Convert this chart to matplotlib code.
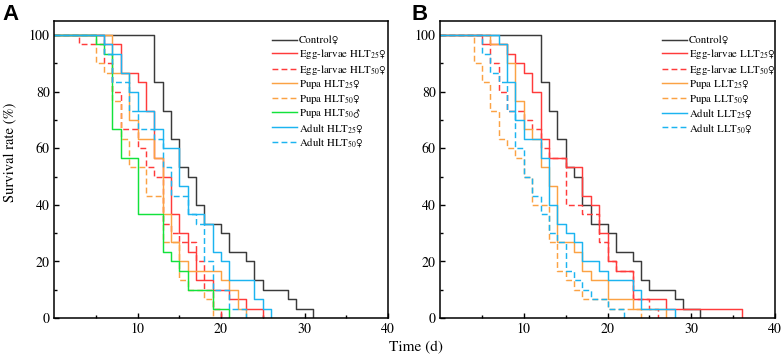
import matplotlib
matplotlib.use('Agg')
import matplotlib.pyplot as plt
from matplotlib.ticker import MultipleLocator, FixedLocator

plt.rcParams['font.family'] = ['STIXGeneral', 'DejaVu Sans']
plt.rcParams['mathtext.fontset'] = 'stix'

# ---- Panel A: high temperature (HLT) ----
ctrl_t = [0, 12, 13, 14, 15, 16, 17, 18, 20, 21, 23, 24, 25, 28, 29, 31]
ctrl_s = [100, 83.3, 73.3, 63.3, 53.3, 50, 40, 33.3, 30, 23.3, 20, 13.3, 10, 6.67, 3.33, 0]

a_egg25_t = [0, 6, 8, 10, 11, 12, 13, 14, 15, 16, 17, 19, 21, 23, 25]
a_egg25_s = [100, 96.7, 86.7, 83.3, 73.3, 56.7, 50, 36.7, 30, 23.3, 13.3, 10, 6.67, 3.33, 0]
a_egg50_t = [0, 3, 6, 7, 8, 10, 11, 12, 13, 14, 15, 17, 18, 19, 20]
a_egg50_s = [100, 96.7, 90, 80, 66.7, 60, 53.3, 50, 33.3, 30, 26.7, 20, 10, 3.33, 0]
a_pupa25_t = [0, 7, 9, 10, 12, 13, 14, 15, 16, 20, 21, 22, 23]
a_pupa25_s = [100, 86.7, 70, 63.3, 56.7, 36.7, 26.7, 20, 16.7, 13.3, 10, 3.33, 0]
a_pupa50_t = [0, 5, 6, 7, 8, 9, 11, 13, 15, 16, 18, 19]
a_pupa50_s = [100, 90, 86.7, 76.7, 63.3, 53.3, 43.3, 26.7, 13.3, 10, 6.67, 0]
a_pupa50m_t = [0, 5, 6, 7, 8, 10, 13, 14, 15, 16, 19, 21]
a_pupa50m_s = [100, 96.7, 93.3, 66.7, 56.7, 36.7, 23.3, 20, 16.7, 10, 3.33, 0]
a_adult25_t = [0, 6, 7, 8, 9, 10, 12, 13, 15, 16, 18, 19, 20, 21, 24, 25, 26]
a_adult25_s = [100, 96.7, 93.3, 86.7, 80, 73.3, 66.7, 60, 46.7, 36.7, 33.3, 23.3, 20, 13.3, 6.67, 3.33, 0]
a_adult50_t = [0, 6, 7, 9, 10, 12, 13, 14, 16, 17, 18, 19, 21, 23]
a_adult50_s = [100, 93.3, 83.3, 73.3, 66.7, 63.3, 53.3, 43.3, 36.7, 33.3, 20, 10, 3.33, 0]

# ---- Panel B: low temperature (LLT) ----
b_egg25_t = [0, 5, 8, 9, 10, 11, 12, 13, 15, 17, 18, 19, 20, 21, 23, 27, 36]
b_egg25_s = [100, 96.7, 93.3, 90, 86.7, 80, 63.3, 56.7, 53.3, 43.3, 40, 30, 20, 16.7, 6.67, 3.33, 0]
b_egg50_t = [0, 6, 7, 8, 10, 11, 12, 13, 15, 17, 19, 20, 21, 23, 25, 26]
b_egg50_s = [100, 90, 80, 73.3, 70, 66.7, 60, 56.7, 40, 36.7, 26.7, 20, 16.7, 6.67, 3.33, 0]
b_pupa25_t = [0, 6, 8, 9, 10, 11, 12, 13, 14, 16, 17, 18, 20, 23, 27]
b_pupa25_s = [100, 96.7, 90, 76.7, 66.7, 63.3, 53.3, 46.7, 26.7, 23.3, 16.7, 13.3, 6.67, 3.33, 0]
b_pupa50_t = [0, 4, 5, 6, 7, 8, 9, 10, 11, 13, 14, 15, 16, 17, 20, 24]
b_pupa50_s = [100, 90, 83.3, 73.3, 63.3, 60, 56.7, 50, 40, 26.7, 16.7, 13.3, 10, 6.67, 3.33, 0]
b_adult25_t = [0, 7, 8, 9, 10, 12, 13, 14, 15, 16, 17, 19, 20, 23, 24, 28]
b_adult25_s = [100, 96.7, 83.3, 70, 63.3, 56.7, 40, 33.3, 30, 26.7, 20, 16.7, 13.3, 10, 3.33, 0]
b_adult50_t = [0, 5, 6, 7, 8, 9, 10, 11, 12, 13, 14, 15, 16, 17, 18, 20, 22]
b_adult50_s = [100, 93.3, 86.7, 83.3, 73.3, 60, 50, 43.3, 36.7, 30, 26.7, 16.7, 13.3, 10, 6.67, 3.33, 0]

BLACK = '#3a3a3a'
RED = '#ff3b3b'
ORANGE = '#fba244'
GREEN = '#12e23c'
BLUE = '#1cb4f0'
DASH = (0, (4, 2.2))

series_a = [
    (ctrl_t, ctrl_s, BLACK, '-', 'Control♀'),
    (a_egg25_t, a_egg25_s, RED, '-', 'Egg-larvae HLT$_{25}$♀'),
    (a_egg50_t, a_egg50_s, RED, DASH, 'Egg-larvae HLT$_{50}$♀'),
    (a_pupa25_t, a_pupa25_s, ORANGE, '-', 'Pupa HLT$_{25}$♀'),
    (a_pupa50_t, a_pupa50_s, ORANGE, DASH, 'Pupa HLT$_{50}$♀'),
    (a_pupa50m_t, a_pupa50m_s, GREEN, '-', 'Pupa HLT$_{50}$♂'),
    (a_adult25_t, a_adult25_s, BLUE, '-', 'Adult HLT$_{25}$♀'),
    (a_adult50_t, a_adult50_s, BLUE, DASH, 'Adult HLT$_{50}$♀'),
]
series_b = [
    (ctrl_t, ctrl_s, BLACK, '-', 'Control♀'),
    (b_egg25_t, b_egg25_s, RED, '-', 'Egg-larvae LLT$_{25}$♀'),
    (b_egg50_t, b_egg50_s, RED, DASH, 'Egg-larvae LLT$_{50}$♀'),
    (b_pupa25_t, b_pupa25_s, ORANGE, '-', 'Pupa LLT$_{25}$♀'),
    (b_pupa50_t, b_pupa50_s, ORANGE, DASH, 'Pupa LLT$_{50}$♀'),
    (b_adult25_t, b_adult25_s, BLUE, '-', 'Adult LLT$_{25}$♀'),
    (b_adult50_t, b_adult50_s, BLUE, DASH, 'Adult LLT$_{50}$♀'),
]

fig = plt.figure(figsize=(7.82, 3.59), dpi=100)
ax_a = fig.add_axes([0.0691, 0.1142, 0.4271, 0.8273])
ax_b = fig.add_axes([0.5627, 0.1142, 0.4284, 0.8273])


def draw_panel(ax, series, legend_x):
    for t, s, c, ls, lab in series:
        ax.step(t, s, where='post', color=c, linestyle=ls, lw=1.05, label=lab)
    ax.set_xlim(0, 40)
    ax.set_ylim(0, 105)
    ax.xaxis.set_major_locator(FixedLocator([10, 20, 30, 40]))
    ax.xaxis.set_minor_locator(FixedLocator([5, 15, 25, 35]))
    ax.yaxis.set_major_locator(MultipleLocator(20))
    ax.yaxis.set_minor_locator(MultipleLocator(10))
    ax.tick_params(which='both', direction='in', labelsize=10, width=1.0)
    ax.tick_params(which='major', length=3.5, pad=3)
    ax.tick_params(which='minor', length=2.5)
    for sp in ax.spines.values():
        sp.set_linewidth(1.1)
    ax.legend(loc='upper left', bbox_to_anchor=(legend_x, 0.95), frameon=False,
              fontsize=7.8, handlelength=2.3, handletextpad=0.2, labelspacing=0.14,
              borderpad=0, borderaxespad=0)


draw_panel(ax_a, series_a, 0.653)
draw_panel(ax_b, series_b, 0.663)

# y label sits a little above the axes centre in the reference
fig.text(0.014, 0.575, 'Survival rate (%)', rotation=90, ha='center', va='center',
         fontsize=10.5)
fig.text(0.532, 0.031, 'Time (d)', ha='center', va='center', fontsize=11)

fig.text(0.003, 0.99, 'A', ha='left', va='top', fontsize=16, fontweight='bold',
         family='Liberation Sans')
fig.text(0.526, 0.99, 'B', ha='left', va='top', fontsize=16, fontweight='bold',
         family='Liberation Sans')

fig.savefig('out.png', dpi=100)
